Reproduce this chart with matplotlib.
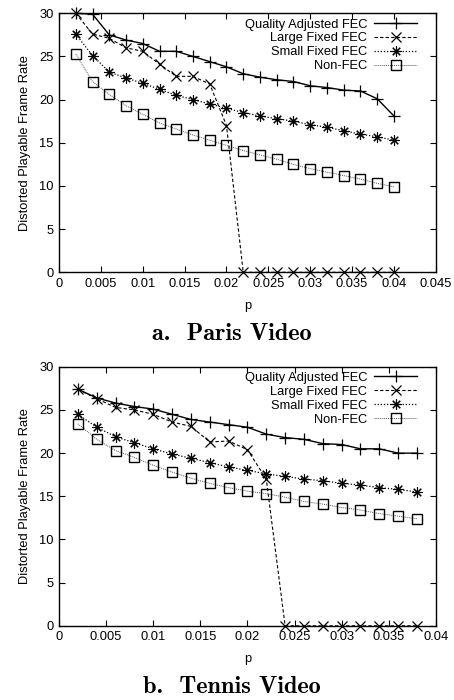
import numpy as np
import matplotlib
matplotlib.use('Agg')
import matplotlib.pyplot as plt

plt.rcParams['font.family'] = ['Liberation Sans', 'DejaVu Sans']
plt.rcParams['axes.unicode_minus'] = False

labels = ['Quality Adjusted FEC', 'Large Fixed FEC', 'Small Fixed FEC', 'Non-FEC']

# Paris video, p = 0.002 .. 0.040
p_paris = [0.002, 0.004, 0.006, 0.008, 0.010, 0.012, 0.014, 0.016, 0.018, 0.020,
           0.022, 0.024, 0.026, 0.028, 0.030, 0.032, 0.034, 0.036, 0.038, 0.040]
paris_quality = [30.0, 29.9, 27.5, 26.9, 26.5, 25.6, 25.6, 25.0, 24.4, 23.8,
                 23.0, 22.6, 22.3, 22.1, 21.6, 21.4, 21.1, 21.0, 20.1, 18.1]
paris_large = [30.0, 27.6, 27.1, 26.0, 25.6, 24.1, 22.7, 22.7, 21.8, 17.0,
               0, 0, 0, 0, 0, 0, 0, 0, 0, 0]
paris_small = [27.6, 25.1, 23.2, 22.5, 21.9, 21.2, 20.5, 20.0, 19.5, 19.0,
               18.5, 18.1, 17.8, 17.5, 17.1, 16.8, 16.4, 16.0, 15.7, 15.3]
paris_nonfec = [25.3, 22.1, 20.6, 19.3, 18.3, 17.3, 16.6, 15.9, 15.3, 14.7,
                14.1, 13.6, 13.1, 12.5, 12.0, 11.6, 11.2, 10.8, 10.3, 9.9]

# Tennis video, p = 0.002 .. 0.038
p_tennis = [0.002, 0.004, 0.006, 0.008, 0.010, 0.012, 0.014, 0.016, 0.018, 0.020,
            0.022, 0.024, 0.026, 0.028, 0.030, 0.032, 0.034, 0.036, 0.038]
tennis_quality = [27.4, 26.4, 25.8, 25.4, 25.1, 24.5, 23.9, 23.6, 23.3, 23.0,
                  22.2, 21.8, 21.6, 21.1, 21.0, 20.5, 20.5, 20.0, 20.0]
tennis_large = [27.4, 26.3, 25.3, 25.0, 24.5, 23.6, 23.1, 21.3, 21.4, 20.4,
                17.0, 0, 0, 0, 0, 0, 0, 0, 0]
tennis_small = [24.5, 23.0, 21.9, 21.2, 20.5, 19.9, 19.4, 18.9, 18.4, 18.0,
                17.6, 17.3, 17.0, 16.8, 16.5, 16.3, 16.0, 15.8, 15.5]
tennis_nonfec = [23.4, 21.6, 20.3, 19.5, 18.6, 17.8, 17.1, 16.5, 16.0, 15.6,
                 15.3, 14.9, 14.4, 14.1, 13.7, 13.4, 13.0, 12.7, 12.4]

styles = [
    dict(color='black', linestyle='-', linewidth=1.0, marker='+', markersize=8, markeredgewidth=0.9),
    dict(color='black', linestyle=(0, (3, 2)), linewidth=0.8, marker='x', markersize=6.5, markeredgewidth=0.9),
    dict(color='black', linestyle=(0, (1, 1.5)), linewidth=0.9, marker=(8, 2, 0), markersize=7.5, markeredgewidth=0.8),
    dict(color='#555555', linestyle=(0, (1, 1)), linewidth=0.7, marker='s', markersize=6.5,
         markerfacecolor='none', markeredgecolor='black', markeredgewidth=1.0),
]


def panel(ax, p, series, xmax, xticks):
    for ys, lab, st in zip(series, labels, styles):
        ax.plot(p, ys, label=lab, clip_on=False, **st)
    ax.set_xlim(0, xmax)
    ax.set_ylim(0, 30)
    ax.set_xticks(xticks)
    ax.set_xticklabels([('%g' % t) for t in xticks])
    ax.set_yticks(np.arange(0, 31, 5))
    ax.tick_params(direction='in', top=True, right=True, length=4, labelsize=9.3, pad=4)
    ax.set_xlabel('p', fontsize=9.3, labelpad=7)
    ax.set_ylabel('Distorted Playable Frame Rate', fontsize=9.3, labelpad=6)
    for s in ax.spines.values():
        s.set_linewidth(1.0)
    ax.legend(loc='upper right', bbox_to_anchor=(0.965, 1.0), frameon=False,
              markerfirst=False, fontsize=9.3, handlelength=3.4, handletextpad=0.5,
              labelspacing=0.15, borderaxespad=0.2, borderpad=0.2)


fig = plt.figure(figsize=(4.54, 7.0), dpi=100)
ax1 = fig.add_axes([0.130, 0.611, 0.830, 0.370])
ax2 = fig.add_axes([0.130, 0.106, 0.830, 0.370])

panel(ax1, p_paris, [paris_quality, paris_large, paris_small, paris_nonfec],
      0.045, np.arange(0, 0.0451, 0.005))
panel(ax2, p_tennis, [tennis_quality, tennis_large, tennis_small, tennis_nonfec],
      0.04, np.arange(0, 0.0401, 0.005))

fig.text(0.511, 1 - 334 / 700, 'a.  Paris Video', fontsize=17.5, fontfamily='cmb10',
         ha='center', va='center')
fig.text(0.511, 1 - 687 / 700, 'b.  Tennis Video', fontsize=17.5, fontfamily='cmb10',
         ha='center', va='center')

fig.savefig('out.png', dpi=100)
